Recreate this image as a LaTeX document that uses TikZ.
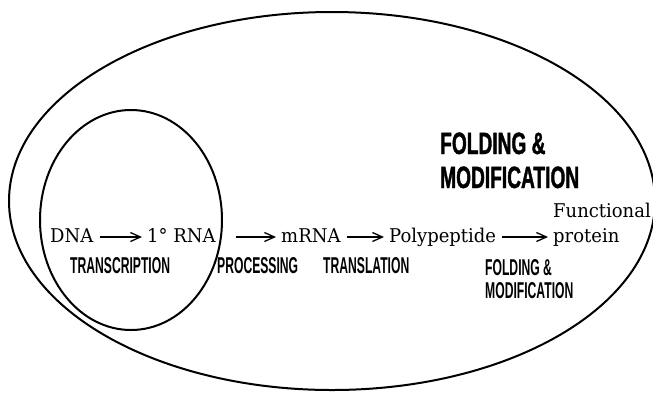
\documentclass[tikz,border=0pt]{standalone}
\usepackage{fontspec}
\setmainfont[FakeStretch=0.95]{DejaVu Serif}
\newfontfamily\labelfont[FakeStretch=0.53]{Liberation Sans}
\newfontfamily\titlefont[FakeStretch=0.62, FakeBold=1.2]{Liberation Sans}
\usetikzlibrary{arrows.meta}

\begin{document}
\begin{tikzpicture}[x=1bp, y=-1bp, >={Straight Barb[length=10bp,width=9bp]},
  every node/.style={inner ysep=0pt, inner xsep=0pt},
  mol/.style={anchor=base west, font=\fontsize{19}{21}\selectfont},
  lab/.style={anchor=base west, font=\labelfont\bfseries\fontsize{23}{25}\selectfont},
  ttl/.style={anchor=base west, font=\titlefont\bfseries\fontsize{31}{33}\selectfont},
  flow/.style={->, line width=1.3bp, shorten <=6bp, shorten >=5bp}]

\useasboundingbox (0,0) rectangle (653,392);

% Compartments
\draw[line width=2bp] (332,201) ellipse [x radius=323, y radius=189];
\draw[line width=2bp] (131,220) ellipse [x radius=91, y radius=110];

% Molecules
\node[mol] at (50,242) (dna) {DNA};
\node[mol] at (147,242) (rna1) {1° RNA};
\node[mol] at (281,242) (mrna) {mRNA};
\node[mol] at (389,242) (poly) {Polypeptide};
\node[mol] at (553,217) (func) {Functional};
\node[mol] at (553,242) (prot) {protein};

% Steps
\node[lab] at (70,273) (transc) {TRANSCRIPTION};
\node[lab] at (217,273) (proc) {PROCESSING};
\node[lab] at (323,273) (transl) {TRANSLATION};
\node[lab] at (485,275) (fold) {FOLDING \&};
\node[lab] at (485,298) (modif) {MODIFICATION};

% Title
\node[ttl] at (440,154) (foldT) {FOLDING \&};
\node[ttl] at (440,188) (modifT) {MODIFICATION};

% Arrows
\draw[flow] ([yshift=5bp]dna.base east) -- ([yshift=5bp]rna1.base west);
\draw[flow, shorten <=20bp] ([yshift=5bp]rna1.base east) -- ([yshift=5bp]mrna.base west);
\draw[flow] ([yshift=5bp]mrna.base east) -- ([yshift=5bp]poly.base west);
\draw[flow] ([yshift=5bp]poly.base east) -- ([yshift=5bp]prot.base west);

\end{tikzpicture}
\end{document}
